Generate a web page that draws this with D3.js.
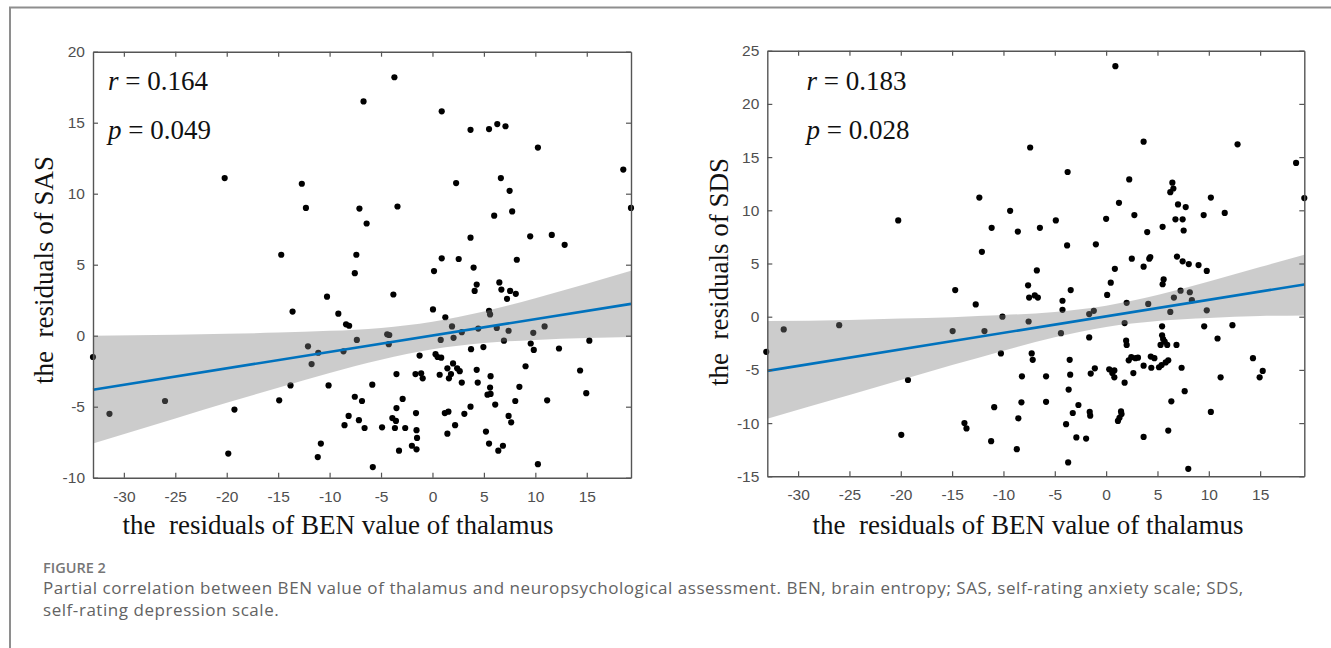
<!DOCTYPE html>
<html><head><meta charset="utf-8">
<script src="https://cdn.jsdelivr.net/npm/d3@7"></script>
<style>
html,body{margin:0;padding:0;background:#fff;}
svg{display:block;}
</style></head>
<body>
<svg id="chart" width="1331" height="648"></svg>
<script>
// ---------------- DATA ----------------
const xTicks = [-30, -25, -20, -15, -10, -5, 0, 5, 10, 15];
const sasTicks = [-10, -5, 0, 5, 10, 15, 20];
const sdsTicks = [-15, -10, -5, 0, 5, 10, 15, 20, 25];

const sasX = [-3.7,-6.7,0.9,3.7,5.5,6.3,7.1,10.25,18.55,-20.2,-12.7,2.3,6.65,7.5,-12.3,-7.1,-3.4,-6.4,6.0,7.75,19.3,3.7,9.5,11.6,12.85,-14.7,-7.4,0.9,2.55,8.2,4.0,-7.55,0.15,4.3,4.1,6.5,6.7,7.55,8.1,7.25,-10.25,-3.8,-13.6,-9.15,-8.4,-8.1,0.05,1.25,5.5,5.6,-4.4,-4.2,-7.35,0.8,-4.25,1.9,2.05,2.85,4.45,6.25,7.4,6.95,9.8,10.9,15.25,9.55,9.85,12.3,4.95,3.75,-12.1,-11.1,-8.65,-33.0,-1.25,0.3,0.5,0.85,-11.75,1.45,2.0,2.4,2.65,1.8,-3.5,-1.65,-1.1,-0.95,0.7,1.6,2.85,4.3,5.65,4.4,5.6,9.05,14.35,8.45,-13.8,-10.1,-5.85,5.35,5.65,8.05,6.1,11.15,14.95,-7.55,-6.85,-2.9,-3.5,-14.9,-19.25,-26.0,-31.4,3.7,3.1,-8.15,-7.15,-3.9,-3.55,-1.6,1.2,1.55,-8.55,-6.6,-4.9,-3.65,-2.65,-1.55,1.45,2.2,5.2,7.4,7.65,-1.5,-2.0,-1.55,-3.25,-10.85,-11.15,-19.85,-5.8,5.5,6.85,6.4,10.25];
const sasY = [18.2,16.5,15.8,14.5,14.55,14.9,14.75,13.25,11.7,11.1,10.7,10.75,11.1,10.2,9.0,8.95,9.1,7.9,8.45,8.75,9.0,6.9,7.0,7.1,6.4,5.7,5.7,5.45,5.4,5.35,4.8,4.4,4.55,3.6,3.15,3.75,3.25,3.15,2.95,2.6,2.75,2.9,1.7,1.55,0.8,0.7,1.85,1.3,1.75,1.5,0.1,0.05,-0.3,-0.3,-0.6,0.65,-0.15,0.25,0.5,0.55,0.35,-0.35,0.2,0.65,-0.35,-0.55,-1.0,-0.9,-0.8,-0.95,-0.75,-1.2,-1.1,-1.5,-1.4,-1.3,-1.5,-1.55,-2.0,-2.3,-1.95,-2.3,-2.5,-2.7,-2.7,-2.7,-2.65,-3.0,-2.75,-3.0,-3.3,-2.4,-2.85,-3.3,-3.65,-2.15,-2.45,-3.6,-3.5,-3.5,-3.45,-4.15,-4.1,-4.6,-4.85,-4.55,-4.05,-4.3,-4.6,-4.45,-5.1,-4.55,-5.2,-4.6,-5.5,-5.0,-5.5,-5.65,-5.95,-5.8,-6.0,-5.45,-5.45,-5.35,-6.3,-6.5,-6.45,-6.5,-6.5,-6.65,-6.9,-6.3,-6.75,-5.65,-6.1,-7.2,-7.75,-8.0,-8.1,-7.6,-8.55,-8.3,-9.25,-7.6,-7.75,-8.1,-9.05];

const sdsX = [-20.25,-12.35,-11.15,-12.1,-9.35,-14.7,-12.7,-10.1,-31.4,-26.0,-14.95,-11.85,-33.1,-10.25,-19.3,-10.9,-13.8,-13.6,-19.95,-11.2,0.9,-7.4,3.65,12.8,18.5,19.3,-3.75,2.25,6.45,6.55,6.25,10.2,1.25,7.0,7.75,2.75,9.5,11.55,0.0,6.75,7.45,-4.9,-8.6,-6.45,4.0,7.55,5.5,-3.8,-1.0,2.5,4.3,4.2,6.9,7.45,8.05,9.0,9.8,-6.75,0.85,3.65,0.45,5.6,5.5,-7.6,-7.5,-6.95,-6.65,-3.45,0.1,-4.25,-4.25,7.25,8.15,6.6,8.35,2.0,4.1,6.25,9.8,-1.65,-1.2,-7.55,1.8,-4.4,5.45,9.55,12.3,-1.65,1.95,2.0,5.45,5.55,5.3,5.7,5.95,10.85,-7.25,-7.15,-3.55,2.2,2.45,2.85,3.1,4.35,4.7,5.15,5.4,5.8,6.05,3.65,4.4,6.85,7.35,-1.5,-1.1,0.3,0.8,0.8,0.6,1.8,2.65,-8.2,-5.85,-3.5,-3.65,11.15,7.65,14.3,14.95,15.25,-8.25,-5.85,-2.7,-3.25,-1.6,-1.55,1.45,1.5,1.3,1.15,6.35,10.2,-8.55,-3.9,6.05,-2.9,-1.95,3.65,-8.7,-3.7,8.0];
const sdsY = [9.05,11.2,8.35,6.1,9.95,2.5,1.15,0.0,-1.2,-0.8,-1.35,-1.35,-3.3,-3.45,-5.95,-8.5,-10.0,-10.5,-11.1,-11.7,23.55,15.9,16.45,16.2,14.45,11.15,13.6,12.9,12.6,12.05,11.7,11.2,10.7,10.55,10.3,9.55,9.55,9.75,9.2,9.15,9.15,9.05,8.0,8.35,7.95,8.1,8.45,6.7,6.8,5.45,5.6,5.45,5.65,5.2,4.95,4.85,4.3,4.35,4.5,4.7,3.2,3.5,3.05,2.95,1.8,2.0,1.8,2.5,2.05,1.5,0.65,2.45,2.3,1.8,1.55,1.3,1.2,0.45,0.6,0.25,0.55,-0.45,-0.6,-1.55,-0.9,-0.9,-0.8,-1.95,-2.25,-2.65,-1.75,-2.1,-2.65,-2.35,-2.65,-2.05,-3.45,-4.05,-4.05,-4.1,-3.8,-3.9,-3.85,-3.75,-3.9,-4.75,-4.55,-4.3,-4.1,-4.6,-4.8,-2.65,-4.8,-5.35,-4.85,-4.95,-5.05,-5.7,-5.3,-6.2,-5.3,-5.6,-5.6,-5.45,-6.85,-5.7,-7.0,-3.9,-5.7,-5.1,-8.05,-8.0,-8.3,-9.05,-8.95,-9.3,-8.9,-9.15,-9.5,-9.8,-7.95,-8.95,-9.55,-10.1,-10.7,-11.35,-11.45,-11.3,-12.45,-13.7,-14.3];

// fitted line and confidence band
const fitX = [-33, 19.3];
const sasFit = [-3.80, 2.24];
const sdsFit = [-5.09, 3.03];
const bandX = [-33, -25, -20, -15, -10, -5, 0, 5, 10, 15, 19.3];
const sasUpper = [0.0, 0.07, 0.13, 0.22, 0.34, 0.55, 0.98, 1.70, 2.64, 3.66, 4.57];
const sasLower = [-7.6, -5.83, -4.73, -3.66, -2.62, -1.69, -0.96, -0.52, -0.30, -0.17, -0.10];
const sdsUpper = [-0.40, -0.30, -0.18, -0.04, 0.15, 0.45, 1.04, 2.04, 3.30, 4.67, 5.82];
const sdsLower = [-9.58, -7.37, -5.95, -4.55, -3.19, -1.94, -0.97, -0.41, -0.13, 0.06, 0.12];

const panels = [
  {xs: sasX, ys: sasY, yTicks: sasTicks, yDomain: [-10, 20], fit: sasFit, up: sasUpper, lo: sasLower,
   yLabel: "the  residuals of SAS", r: "0.164", p: "0.049",
   box: [93, 631, 51.7, 477.7], ylab: [53, 270], xlabCx: 338, ann: [108, 90, 139]},
  {xs: sdsX, ys: sdsY, yTicks: sdsTicks, yDomain: [-15, 25], fit: sdsFit, up: sdsUpper, lo: sdsLower,
   yLabel: "the  residuals of SDS", r: "0.183", p: "0.028",
   box: [767.3, 1304.3, 50.7, 476.3], ylab: [728, 272], xlabCx: 1028, ann: [806.5, 90, 138.5]}
];
const xLabel = "the  residuals of BEN value of thalamus";

// ---------------- DRAW ----------------
const svg = d3.select("#chart");
svg.append("rect").attr("width", 1331).attr("height", 648).attr("fill", "#fff");

// outer frame (top + left)
svg.append("path").attr("d", "M10,648 L10,7.5 L1331,7.5")
  .attr("fill", "none").attr("stroke", "#8e8e8e").attr("stroke-width", 2);

const tickFont = "'Liberation Sans', Arial, sans-serif";
const serif = "'Liberation Serif', 'Times New Roman', serif";
const axisColor = "#555";

panels.forEach(P => {
  const [x0, x1, y0, y1] = P.box;
  const x = d3.scaleLinear().domain([-33, 19.3]).range([x0, x1]);
  const y = d3.scaleLinear().domain(P.yDomain).range([y1, y0]);
  const g = svg.append("g");

  // points
  g.append("g").selectAll("circle").data(P.xs.map((v, i) => [v, P.ys[i]])).join("circle")
    .attr("cx", d => x(d[0])).attr("cy", d => y(d[1])).attr("r", 3.1).attr("fill", "#000");

  // confidence band (translucent, over points)
  const band = d3.area().x((d, i) => x(bandX[i])).y0((d, i) => y(P.lo[i])).y1((d, i) => y(P.up[i]))
    .curve(d3.curveMonotoneX);
  g.append("path").datum(bandX).attr("d", band).attr("fill", "rgb(128,128,128)").attr("fill-opacity", 0.4);

  // fit line
  g.append("line").attr("x1", x(fitX[0])).attr("y1", y(P.fit[0])).attr("x2", x(fitX[1])).attr("y2", y(P.fit[1]))
    .attr("stroke", "#0072BD").attr("stroke-width", 2.6);

  // axes
  const styleAxis = sel => {
    sel.select(".domain").attr("stroke", axisColor).attr("stroke-width", 1.4);
    sel.selectAll(".tick line").attr("stroke", axisColor).attr("stroke-width", 1.2);
    sel.selectAll("text").attr("fill", "#4f4f4f").attr("font-family", tickFont).attr("font-size", 15.5);
  };
  g.append("g").attr("transform", `translate(0,${y1})`)
    .call(d3.axisBottom(x).tickValues(xTicks).tickFormat(d => String(d)).tickSizeInner(-5).tickSizeOuter(0).tickPadding(13))
    .call(styleAxis);
  g.append("g").attr("transform", `translate(0,${y0})`)
    .call(d3.axisTop(x).tickValues(xTicks).tickFormat("").tickSizeInner(-5).tickSizeOuter(0))
    .call(styleAxis);
  g.append("g").attr("transform", `translate(${x0},0)`)
    .call(d3.axisLeft(y).tickValues(P.yTicks).tickFormat(d => String(d)).tickSizeInner(-5).tickSizeOuter(0).tickPadding(8))
    .call(styleAxis);
  g.append("g").attr("transform", `translate(${x1},0)`)
    .call(d3.axisRight(y).tickValues(P.yTicks).tickFormat("").tickSizeInner(-5).tickSizeOuter(0))
    .call(styleAxis);

  // axis labels
  g.append("text").attr("x", P.xlabCx).attr("y", 533.5).attr("text-anchor", "middle")
    .attr("font-family", serif).attr("font-size", 27).attr("fill", "#111")
    .style("white-space", "pre").text(xLabel);
  g.append("text").attr("transform", `translate(${P.ylab[0]},${P.ylab[1]}) rotate(-90)`)
    .attr("text-anchor", "middle").attr("font-family", serif).attr("font-size", 27).attr("fill", "#111")
    .style("white-space", "pre").text(P.yLabel);

  // annotations
  const [ax, ry, py] = P.ann;
  const t1 = g.append("text").attr("x", ax).attr("y", ry).attr("font-family", serif).attr("font-size", 27).attr("fill", "#111");
  t1.append("tspan").attr("font-style", "italic").text("r");
  t1.append("tspan").text(" = " + P.r);
  const t2 = g.append("text").attr("x", ax).attr("y", py).attr("font-family", serif).attr("font-size", 27).attr("fill", "#111");
  t2.append("tspan").attr("font-style", "italic").text("p");
  t2.append("tspan").text(" = " + P.p);
});

// caption
const capFont = "'Open Sans', 'Noto Sans', sans-serif";
svg.append("text").attr("x", 43).attr("y", 573).attr("font-family", capFont).attr("font-size", 14.5)
  .attr("font-weight", 600).attr("fill", "#767676").text("FIGURE 2");
const capLines = [
  "Partial correlation between BEN value of thalamus and neuropsychological assessment. BEN, brain entropy; SAS, self-rating anxiety scale; SDS,",
  "self-rating depression scale."
];
svg.selectAll(".cap").data(capLines).join("text").attr("class", "cap")
  .attr("x", 43).attr("y", (d, i) => 594 + i * 22)
  .attr("font-family", capFont).attr("font-size", 17).attr("letter-spacing", 0.55)
  .attr("fill", "#636363").text(d => d);
</script>
</body></html>
